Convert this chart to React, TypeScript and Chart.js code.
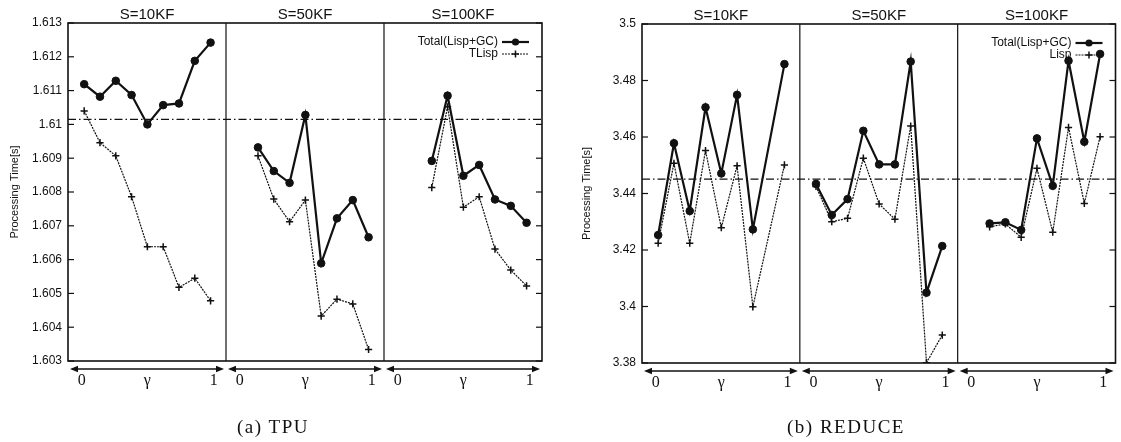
import React, { useEffect, useRef } from "react";
import Chart from "chart.js/auto";

// ---------- data ----------
const PANEL_TITLES = ["S=10KF", "S=50KF", "S=100KF"];
const X_TICK_LABELS = ["0", "γ", "1"];
const X_TICK_GAMMAS = [-0.02, 0.5, 1.025];

const TPU_LEGEND = ["Total(Lisp+GC)", "TLisp"];
const RED_LEGEND = ["Total(Lisp+GC)", "Lisp"];

const TPU_Y_TICK_LABELS = ["1.603", "1.604", "1.605", "1.606", "1.607", "1.608", "1.609", "1.61", "1.611", "1.612", "1.613"];
const RED_Y_TICK_LABELS = ["3.38", "3.4", "3.42", "3.44", "3.46", "3.48", "3.5"];

const TPU_REF = 1.61015;
const RED_REF = 3.4451;

// TPU
const TPU_10_GAMMA = [0, 0.125, 0.25, 0.375, 0.5, 0.625, 0.75, 0.875, 1];
const TPU_10_TOTAL = [1.61119, 1.61082, 1.61129, 1.61087, 1.61, 1.61057, 1.61062, 1.61188, 1.61242];
const TPU_10_TLISP = [1.6104, 1.60946, 1.60907, 1.60786, 1.60638, 1.60638, 1.60518, 1.60545, 1.60478];

const TPU_50_GAMMA = [0.125, 0.25, 0.375, 0.5, 0.625, 0.75, 0.875, 1];
const TPU_50_TOTAL = [1.60932, 1.60862, 1.60827, 1.61028, 1.60589, 1.60722, 1.60776, 1.60666];
const TPU_50_TLISP = [1.60907, 1.60779, 1.60712, 1.60776, 1.60433, 1.60483, 1.60469, 1.60334];

const TPU_100_GAMMA = [0.25, 0.375, 0.5, 0.625, 0.75, 0.875, 1];
const TPU_100_TOTAL = [1.60892, 1.61085, 1.60848, 1.6088, 1.60778, 1.60759, 1.60709];
const TPU_100_TLISP = [1.60813, 1.61052, 1.60755, 1.60786, 1.60631, 1.60569, 1.60522];

// REDUCE
const RED_10_GAMMA = [0, 0.125, 0.25, 0.375, 0.5, 0.625, 0.75, 1];
const RED_10_TOTAL = [3.4253, 3.4578, 3.4338, 3.4705, 3.4471, 3.4749, 3.4273, 3.4858];
const RED_10_LISP = [3.4224, 3.4507, 3.4224, 3.4552, 3.4279, 3.4498, 3.3999, 3.4501];

const RED_50_GAMMA = [0, 0.125, 0.25, 0.375, 0.5, 0.625, 0.75, 0.875, 1];
const RED_50_TOTAL = [3.4434, 3.4324, 3.438, 3.4622, 3.4503, 3.4503, 3.4867, 3.4049, 3.4214];
const RED_50_LISP = [3.4425, 3.43, 3.4312, 3.4525, 3.4363, 3.4309, 3.4639, 3.3801, 3.3899];

const RED_100_GAMMA = [0.125, 0.25, 0.375, 0.5, 0.625, 0.75, 0.875, 1];
const RED_100_TOTAL = [3.4294, 3.4298, 3.4271, 3.4595, 3.4427, 3.487, 3.4583, 3.4894];
const RED_100_LISP = [3.4282, 3.4292, 3.4245, 3.4489, 3.4263, 3.4634, 3.4365, 3.4601];

// ---------- layout ----------
const PANEL_PAD = 0.128;
const PANEL_SPAN = 1.25;
const CANVAS_H = 442;
const INK = "#111";

type Panel = { gamma: number[]; total: number[]; lisp: number[] };
type Fig = {
  key: string;
  canvasLeft: number;
  canvasWidth: number;
  area: { left: number; top: number; right: number; bottom: number };
  yTickLabels: string[];
  ref: number;
  panels: Panel[];
  legend: string[];
  yTitlePad: number;
};

const FIGS: Fig[] = [
  {
    key: "tpu",
    canvasLeft: 0,
    canvasWidth: 560,
    area: { left: 68, top: 23, right: 542, bottom: 361 },
    yTickLabels: TPU_Y_TICK_LABELS,
    ref: TPU_REF,
    panels: [
      { gamma: TPU_10_GAMMA, total: TPU_10_TOTAL, lisp: TPU_10_TLISP },
      { gamma: TPU_50_GAMMA, total: TPU_50_TOTAL, lisp: TPU_50_TLISP },
      { gamma: TPU_100_GAMMA, total: TPU_100_TOTAL, lisp: TPU_100_TLISP },
    ],
    legend: TPU_LEGEND,
    yTitlePad: 8,
  },
  {
    key: "reduce",
    canvasLeft: 560,
    canvasWidth: 561,
    area: { left: 82, top: 24, right: 557, bottom: 363 },
    yTickLabels: RED_Y_TICK_LABELS,
    ref: RED_REF,
    panels: [
      { gamma: RED_10_GAMMA, total: RED_10_TOTAL, lisp: RED_10_LISP },
      { gamma: RED_50_GAMMA, total: RED_50_TOTAL, lisp: RED_50_LISP },
      { gamma: RED_100_GAMMA, total: RED_100_TOTAL, lisp: RED_100_LISP },
    ],
    legend: RED_LEGEND,
    yTitlePad: 20,
  },
];

function line(ctx: CanvasRenderingContext2D, x0: number, y0: number, x1: number, y1: number) {
  ctx.beginPath();
  ctx.moveTo(x0, y0);
  ctx.lineTo(x1, y1);
  ctx.stroke();
}

function makeDecor(fig: Fig) {
  return {
    id: "decor_" + fig.key,
    afterDatasetsDraw(chart: any) {
      const { ctx, chartArea: a, scales } = chart;
      const x = scales.x;
      const y = scales.y;
      ctx.save();
      ctx.strokeStyle = INK;
      ctx.fillStyle = INK;
      ctx.setLineDash([]);
      // frame
      ctx.lineWidth = 1.6;
      ctx.strokeRect(a.left, a.top, a.right - a.left, a.bottom - a.top);
      // panel dividers
      ctx.lineWidth = 1.2;
      for (let p = 1; p < 3; p++) {
        const px = x.getPixelForValue(p * PANEL_SPAN - PANEL_PAD);
        line(ctx, px, a.top, px, a.bottom);
      }
      // inward ticks
      ctx.lineWidth = 1.2;
      for (const lbl of fig.yTickLabels) {
        const py = y.getPixelForValue(Number(lbl));
        line(ctx, a.left, py, a.left + 6, py);
        line(ctx, a.right - 6, py, a.right, py);
      }
      // titles
      ctx.font = '15px "Liberation Sans"';
      ctx.textAlign = "center";
      ctx.textBaseline = "middle";
      for (let p = 0; p < 3; p++) {
        const cx = x.getPixelForValue(p * PANEL_SPAN - PANEL_PAD + PANEL_SPAN / 2);
        ctx.fillText(PANEL_TITLES[p], cx, a.top - 8);
      }
      // arrows
      const ay = a.bottom + 8;
      ctx.lineWidth = 1.6;
      for (let p = 0; p < 3; p++) {
        const x0 = x.getPixelForValue(p * PANEL_SPAN - PANEL_PAD) + 2;
        const x1 = x.getPixelForValue((p + 1) * PANEL_SPAN - PANEL_PAD) - 2;
        line(ctx, x0 + 5, ay, x1 - 5, ay);
        ctx.beginPath();
        ctx.moveTo(x0, ay);
        ctx.lineTo(x0 + 8, ay - 3.2);
        ctx.lineTo(x0 + 8, ay + 3.2);
        ctx.closePath();
        ctx.fill();
        ctx.beginPath();
        ctx.moveTo(x1, ay);
        ctx.lineTo(x1 - 8, ay - 3.2);
        ctx.lineTo(x1 - 8, ay + 3.2);
        ctx.closePath();
        ctx.fill();
      }
      // legend
      ctx.font = '12px "Liberation Sans"';
      ctx.textAlign = "right";
      ctx.textBaseline = "middle";
      const tx = a.right - 44;
      const s0 = a.right - 40;
      const s1 = a.right - 13;
      const sm = (s0 + s1) / 2;
      for (let i = 0; i < 2; i++) {
        const ly = a.top + 19 + i * 12;
        ctx.fillText(fig.legend[i], tx, ly);
        if (i === 0) {
          ctx.lineWidth = 2.2;
          ctx.setLineDash([]);
          line(ctx, s0, ly, s1, ly);
          ctx.beginPath();
          ctx.arc(sm, ly, 3.6, 0, Math.PI * 2);
          ctx.fill();
        } else {
          ctx.lineWidth = 1.2;
          ctx.setLineDash([2, 1]);
          line(ctx, s0, ly, s1, ly);
          ctx.setLineDash([]);
          ctx.lineWidth = 1.5;
          line(ctx, sm - 3.5, ly, sm + 3.5, ly);
          line(ctx, sm, ly - 3.5, sm, ly + 3.5);
        }
      }
      ctx.restore();
    },
  };
}

function buildConfig(fig: Fig): any {
  const xMin = -PANEL_PAD;
  const xMax = 3 * PANEL_SPAN - PANEL_PAD;
  const yVals = fig.yTickLabels.map(Number);
  const datasets: any[] = [];
  fig.panels.forEach((pn, p) => {
    datasets.push({
      label: fig.legend[0] + p,
      data: pn.gamma.map((g, i) => ({ x: p * PANEL_SPAN + g, y: pn.total[i] })),
      borderColor: INK,
      backgroundColor: INK,
      borderWidth: 2.2,
      pointStyle: "circle",
      pointRadius: 3.8,
      pointBorderWidth: 1,
      tension: 0,
      order: 0,
    });
    datasets.push({
      label: fig.legend[1] + p,
      data: pn.gamma.map((g, i) => ({ x: p * PANEL_SPAN + g, y: pn.lisp[i] })),
      borderColor: INK,
      backgroundColor: INK,
      borderWidth: 1.2,
      borderDash: [2, 1],
      pointStyle: "cross",
      pointRadius: 3.6,
      pointBorderWidth: 1.5,
      tension: 0,
      order: 1,
    });
  });
  datasets.push({
    label: "ref",
    data: [
      { x: xMin, y: fig.ref },
      { x: xMax, y: fig.ref },
    ],
    borderColor: INK,
    borderWidth: 1.1,
    borderDash: [8, 3, 1.5, 3],
    pointRadius: 0,
    order: 2,
  });

  const xTickVals: number[] = [];
  for (let p = 0; p < 3; p++) for (const g of X_TICK_GAMMAS) xTickVals.push(p * PANEL_SPAN + g);

  const padRight = fig.canvasWidth - fig.area.right;
  const xAxisH = 40;
  const padBottom = CANVAS_H - fig.area.bottom - xAxisH;

  return {
    type: "line",
    data: { datasets },
    options: {
      animation: false,
      responsive: false,
      maintainAspectRatio: false,
      layout: { padding: { left: 0, top: fig.area.top, right: padRight, bottom: padBottom } },
      plugins: { legend: { display: false }, tooltip: { enabled: false } },
      scales: {
        x: {
          type: "linear",
          min: xMin,
          max: xMax,
          grid: { display: false, drawTicks: false },
          border: { display: false },
          afterBuildTicks: (s: any) => {
            s.ticks = xTickVals.map((v) => ({ value: v }));
          },
          afterFit: (s: any) => {
            s.height = xAxisH;
          },
          ticks: {
            autoSkip: false,
            maxRotation: 0,
            color: INK,
            padding: 10,
            font: { family: '"Liberation Serif"', size: 16 },
            callback: (_v: any, i: number) => X_TICK_LABELS[i % 3],
          },
        },
        y: {
          type: "linear",
          min: yVals[0],
          max: yVals[yVals.length - 1],
          grid: { display: false, drawTicks: false },
          border: { display: false },
          afterBuildTicks: (s: any) => {
            s.ticks = yVals.map((v) => ({ value: v }));
          },
          afterFit: (s: any) => {
            s.width = fig.area.left;
          },
          ticks: {
            color: INK,
            padding: 6,
            font: { family: '"Liberation Sans"', size: 12 },
            callback: (_v: any, i: number) => fig.yTickLabels[i],
          },
          title: {
            display: true,
            text: "Processing Time[s]",
            color: INK,
            font: { family: '"Liberation Sans"', size: 11 },
            padding: { top: fig.yTitlePad, bottom: 0 },
          },
        },
      },
    },
    plugins: [makeDecor(fig)],
  };
}

function FigureChart({ fig }: { fig: Fig }) {
  const ref = useRef<HTMLCanvasElement | null>(null);
  useEffect(() => {
    if (!ref.current) return;
    const chart = new Chart(ref.current, buildConfig(fig));
    return () => chart.destroy();
  }, [fig]);
  return (
    <canvas
      ref={ref}
      width={fig.canvasWidth}
      height={CANVAS_H}
      style={{ position: "absolute", left: fig.canvasLeft, top: 0, width: fig.canvasWidth, height: CANVAS_H }}
    />
  );
}

const CAPTIONS = ["(a) TPU", "(b) REDUCE"];
const CAPTION_X = [273, 846];

export default function App() {
  return (
    <div style={{ position: "absolute", left: 0, top: 0, width: 1121, height: 442, background: "#fff", overflow: "hidden" }}>
      {FIGS.map((f) => (
        <FigureChart key={f.key} fig={f} />
      ))}
      {CAPTIONS.map((c, i) => (
        <div
          key={c}
          style={{
            position: "absolute",
            left: CAPTION_X[i] - 100,
            width: 200,
            top: 416,
            textAlign: "center",
            fontFamily: '"Liberation Serif", serif',
            fontSize: 19,
            letterSpacing: 1.5,
            lineHeight: "22px",
            color: INK,
          }}
        >
          {c}
        </div>
      ))}
    </div>
  );
}
